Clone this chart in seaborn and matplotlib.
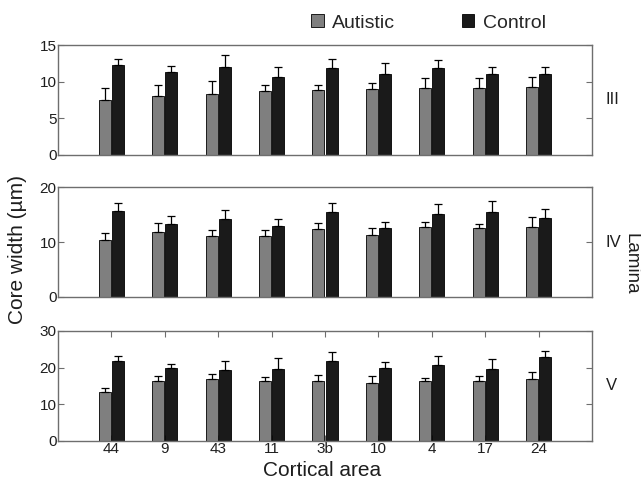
import numpy as np
import pandas as pd
import matplotlib
matplotlib.use("Agg")
import matplotlib.pyplot as plt
import seaborn as sns

areas = ["44", "9", "43", "11", "3b", "10", "4", "17", "24"]
groups = ["Autistic", "Control"]
laminae = ["III", "IV", "V"]

autistic_III = [7.5, 8.05, 8.3, 8.7, 8.9, 8.95, 9.15, 9.15, 9.3]
autistic_III_err = [1.7, 1.5, 1.8, 0.8, 0.65, 0.85, 1.3, 1.3, 1.3]
control_III = [12.27, 11.3, 11.95, 10.6, 11.8, 11.1, 11.8, 11.1, 11.1]
control_III_err = [0.85, 0.9, 1.65, 1.45, 1.25, 1.5, 1.1, 0.85, 0.85]

autistic_IV = [10.3, 11.9, 11.1, 11.1, 12.4, 11.3, 12.7, 12.6, 12.7]
autistic_IV_err = [1.25, 1.5, 1.1, 1.1, 1.1, 1.2, 1.0, 0.7, 1.8]
control_IV = [15.7, 13.3, 14.2, 12.85, 15.5, 12.5, 15.05, 15.4, 14.4]
control_IV_err = [1.35, 1.4, 1.7, 1.4, 1.6, 1.15, 1.95, 2.0, 1.6]

autistic_V = [13.3, 16.4, 16.8, 16.3, 16.5, 15.7, 16.3, 16.5, 16.9]
autistic_V_err = [1.1, 1.4, 1.4, 1.2, 1.6, 2.1, 1.0, 1.2, 2.0]
control_V = [21.8, 20.0, 19.4, 19.6, 21.8, 19.9, 20.6, 19.7, 22.8]
control_V_err = [1.3, 1.1, 2.3, 3.1, 2.4, 1.7, 2.7, 2.7, 1.8]

y_limits = [15, 20, 30]
y_ticks = [[0, 5, 10, 15], [0, 10, 20], [0, 10, 20, 30]]

panels = [
    (autistic_III, autistic_III_err, control_III, control_III_err),
    (autistic_IV, autistic_IV_err, control_IV, control_IV_err),
    (autistic_V, autistic_V_err, control_V, control_V_err),
]

sns.set_theme(style="white")
plt.rcParams["font.family"] = ["Liberation Sans", "DejaVu Sans"]

palette = {"Autistic": "#7f7f7f", "Control": "#1a1a1a"}
spine_col = "#6e6e6e"
text_col = "#1e1e1e"

fig = plt.figure(figsize=(6.41, 4.83), dpi=100)
left, width, height = 58 / 641, 534 / 641, 110 / 483
bottoms = [1 - 155 / 483, 1 - 297 / 483, 1 - 441 / 483]

handles = None
for i, (a, ae, c, ce) in enumerate(panels):
    ax = fig.add_axes([left, bottoms[i], width, height])
    df = pd.DataFrame({
        "area": areas * 2,
        "group": ["Autistic"] * len(areas) + ["Control"] * len(areas),
        "value": list(a) + list(c),
    })
    sns.barplot(data=df, x="area", y="value", hue="group", order=areas,
                hue_order=groups, palette=palette, width=0.5, gap=0.1,
                edgecolor="black", linewidth=0.6, errorbar=None, ax=ax,
                legend=(i == 0))
    if i == 0:
        handles, labels = ax.get_legend_handles_labels()
        ax.get_legend().remove()
    for cont, errs in zip(ax.containers, [ae, ce]):
        xs = [p.get_x() + p.get_width() / 2 for p in cont]
        hs = [p.get_height() for p in cont]
        ax.errorbar(xs, hs, yerr=[np.zeros(len(errs)), errs], fmt="none",
                    ecolor="black", elinewidth=0.9, capsize=2.8,
                    capthick=0.9, zorder=3)
    ax.set_xlim(-1, 9)
    ax.set_ylim(0, y_limits[i])
    ax.set_yticks(y_ticks[i])
    ax.set_xlabel("")
    ax.set_ylabel("")
    for s in ax.spines.values():
        s.set_color(spine_col)
        s.set_linewidth(1.0)
    ax.tick_params(axis="y", which="both", direction="in", left=True,
                   right=True, length=4, width=0.8, color=spine_col,
                   labelsize=11, pad=1, labelcolor=text_col)
    if i == 2:
        ax.tick_params(axis="x", direction="in", bottom=True, top=True,
                       length=4, width=0.8, color=spine_col, labelsize=11,
                       pad=1, labelcolor=text_col)
    else:
        ax.tick_params(axis="x", bottom=False, top=False, labelbottom=False)
    ax.text(1.026, 0.5, laminae[i], transform=ax.transAxes, ha="left",
            va="center", fontsize=12, color=text_col)

fig.text(322 / 641, 1 - 470 / 483, "Cortical area",
         ha="center", va="center", fontsize=15, color=text_col)
fig.text(18 / 641, 1 - 250 / 483, "Core width (\u00b5m)", rotation=90,
         ha="center", va="center", fontsize=15, color=text_col)
fig.text(631 / 641, 1 - 264 / 483, "Lamina", rotation=-90,
         ha="center", va="center", fontsize=13.5, color=text_col)

fig.legend(handles, groups, loc="center left",
           bbox_to_anchor=(311 / 641, 1 - 23 / 483),
           ncol=2, frameon=False, fontsize=14, handlelength=0.65,
           handleheight=0.65, columnspacing=3.4, handletextpad=0.45,
           borderpad=0, borderaxespad=0)

fig.savefig("out.png", dpi=100)
